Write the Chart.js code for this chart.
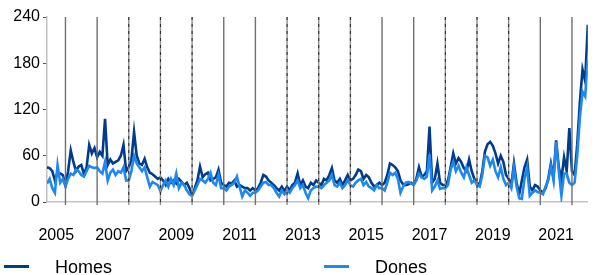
<!DOCTYPE html>
<html><head><meta charset="utf-8">
<script src="https://cdn.jsdelivr.net/npm/chart.js@4/dist/chart.umd.min.js"></script>
<style>
html,body{margin:0;padding:0;background:#fff;overflow:hidden}
#wrap{position:relative;width:598px;height:275px;font-family:"Liberation Sans",Arial,sans-serif}
canvas{position:absolute;left:0;top:0}
.lg{position:absolute;height:3px;width:25px}
.lt{position:absolute;font-size:18px;line-height:18px;color:#000;white-space:nowrap}
</style></head><body>
<div id="wrap"><canvas id="c" width="598" height="275"></canvas></div>
<script>
// Monthly series, June 2005 .. July 2022
const startYear = 2005, startMonth = 6;
const seriesNames = ['Homes', 'Dones'];
const homes = [
 45,44,40,28,38,37,35,
 22,40,67,52,40,46,48,36,45,74,63,70,
 58,65,60,108,48,55,50,52,54,60,74,40,
 45,55,91,60,50,48,56,45,38,36,33,30,
 32,28,22,30,25,28,24,30,26,22,25,18,
 9,18,28,46,32,36,38,28,30,32,42,25,
 22,20,25,24,28,20,22,20,18,18,15,18,
 15,18,25,35,33,28,25,22,18,15,20,14,
 20,15,22,25,37,22,28,20,18,25,22,28,
 25,22,30,28,35,44,28,25,30,22,28,35,
 28,30,35,42,40,30,35,32,25,20,22,25,
 22,25,35,50,48,45,40,28,23,22,23,25,
 23,30,45,33,35,40,98,25,30,50,25,22,
 22,28,45,63,50,57,52,44,40,55,40,30,
 25,22,40,65,75,78,73,63,50,60,52,35,
 30,22,50,25,10,28,45,55,20,15,22,20,
 15,12,18,30,50,32,80,45,30,58,40,96,
 40,35,75,130,172,157,230
];
const dones = [
 24,30,18,12,48,25,30,
 20,30,37,35,42,40,35,33,40,47,45,44,
 45,40,37,52,28,38,42,35,40,38,45,28,
 28,40,60,50,45,40,45,32,20,26,24,22,
 14,22,28,20,30,22,37,18,25,22,15,10,
 8,15,22,30,28,25,30,38,25,22,35,18,
 18,15,20,22,25,33,20,7,15,12,8,12,
 12,15,20,25,26,22,22,18,12,7,15,10,
 15,12,18,22,28,18,22,12,5,15,18,20,
 20,18,22,25,28,35,22,20,25,18,22,28,
 22,20,25,28,30,22,26,20,18,15,22,18,
 18,15,25,38,35,38,30,12,20,25,26,24,
 22,28,37,32,30,33,62,15,20,28,17,18,
 18,22,42,52,40,47,38,32,45,35,25,28,
 22,20,35,60,58,47,55,40,32,45,30,22,
 25,18,45,20,5,4,30,45,8,12,15,13,
 12,10,20,28,47,28,78,40,8,37,37,25,
 22,25,60,110,143,137,185
];
const xTickLabels = ['2005','2007','2009','2011','2013','2015','2017','2019','2021'];
const yTicks = [0,60,120,180,240];
const boundaryYears = [2006,2007,2008,2009,2010,2011,2012,2013,2014,2015,2016,2017,2018,2019,2020,2021,2022];
const dashedYears = [2008,2009,2010,2013,2014,2015,2018,2019,2020];

const colors = ['#003b8c', '#1e88ee'];
const toXY = arr => arr.map((v, i) => ({x: startYear + (startMonth - 1 + i) / 12, y: v}));
const xMin = startYear + (startMonth - 1) / 12;
const xMax = startYear + (startMonth - 1 + homes.length - 1) / 12;
const tickPos = xTickLabels.map((l, i) => {
  const y = +l;
  return i === 0 ? (Math.max(xMin, y) + y + 1) / 2 : y + 0.5;
});

Chart.defaults.font.family = '"Liberation Sans", Arial, sans-serif';
Chart.defaults.color = '#000';

const yearLines = {
  id: 'yearLines',
  afterDatasetsDraw(chart) {
    const {ctx, chartArea: {top, bottom}, scales: {x}} = chart;
    ctx.save();
    boundaryYears.forEach(yr => {
      const px = x.getPixelForValue(yr);
      const dashed = dashedYears.includes(yr);
      ctx.beginPath();
      ctx.moveTo(px, top);
      ctx.lineTo(px, bottom + 3);
      ctx.setLineDash([]);
      ctx.lineWidth = 1.4;
      ctx.strokeStyle = dashed ? '#8e8e8e' : '#707070';
      ctx.stroke();
      if (dashed) {
        ctx.setLineDash([3, 4]);
        ctx.strokeStyle = '#1a1a1a';
        ctx.lineWidth = 0.9;
        ctx.stroke();
      }
    });
    ctx.restore();
  }
};

const chart = new Chart(document.getElementById('c'), {
  type: 'line',
  data: {
    datasets: [
      {label: seriesNames[0], data: toXY(homes), borderColor: colors[0], order: 2},
      {label: seriesNames[1], data: toXY(dones), borderColor: colors[1], order: 1}
    ]
  },
  options: {
    responsive: false,
    animation: false,
    layout: {padding: {top: 17, right: 1, left: 0, bottom: 0}},
    elements: {point: {radius: 0}, line: {borderWidth: 2.6, tension: 0}},
    plugins: {legend: {display: false}, tooltip: {enabled: false}},
    scales: {
      x: {
        type: 'linear', min: xMin, max: xMax,
        grid: {display: false, drawTicks: false},
        border: {display: true, color: '#c4c4c4', width: 1.5},
        afterBuildTicks: s => { s.ticks = tickPos.map(v => ({value: v})); },
        afterFit: s => { s.height = 73; },
        ticks: {
          autoSkip: false, maxRotation: 0, padding: 24,
          font: {size: 16},
          callback: (v, i) => xTickLabels[i]
        }
      },
      y: {
        min: 0, max: 240,
        afterBuildTicks: s => { s.ticks = yTicks.map(v => ({value: v})); },
        afterFit: s => { s.width = 47; },
        grid: {drawOnChartArea: false, drawTicks: true, tickLength: 4, color: '#555', lineWidth: 1},
        border: {display: true, color: '#c0c0c0', width: 1.5},
        ticks: {padding: 3, font: {size: 16}}
      }
    }
  },
  plugins: [yearLines]
});

// legend
const wrap = document.getElementById('wrap');
const legendPos = [{line: 4, text: 55}, {line: 324, text: 375}];
seriesNames.forEach((n, i) => {
  const l = document.createElement('div');
  l.className = 'lg';
  l.style.left = legendPos[i].line + 'px';
  l.style.top = '265px';
  l.style.background = colors[i];
  wrap.appendChild(l);
  const t = document.createElement('div');
  t.className = 'lt';
  t.style.left = legendPos[i].text + 'px';
  t.style.top = '258px';
  t.textContent = n;
  wrap.appendChild(t);
});
</script>
</body></html>
